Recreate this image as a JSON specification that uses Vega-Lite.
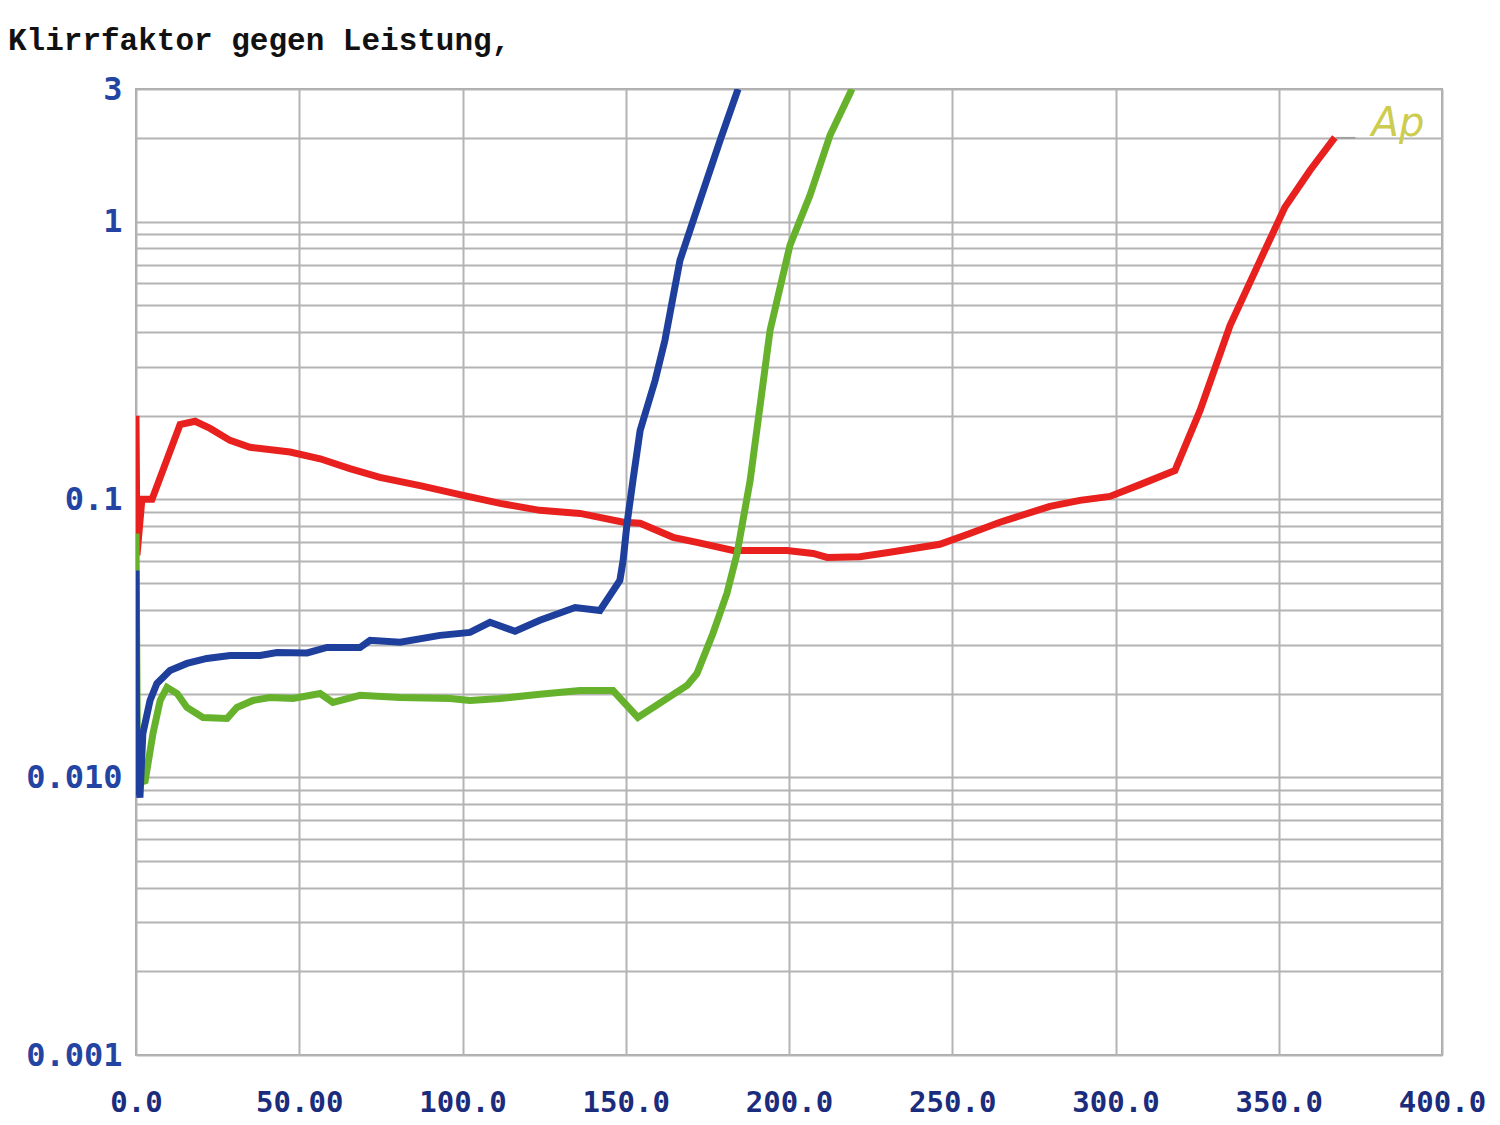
{
  "$schema": "https://vega.github.io/schema/vega-lite/v6.json",
  "width": 1306,
  "height": 966,
  "autosize": {"type": "none"},
  "padding": {"left": 136, "top": 89, "right": 58, "bottom": 70},
  "background": "white",
  "title": {
    "text": "Klirrfaktor gegen Leistung,",
    "anchor": "start",
    "frame": "group",
    "dx": -128,
    "dy": 44,
    "offset": 36,
    "baseline": "alphabetic",
    "font": "Liberation Mono",
    "fontSize": 31,
    "fontWeight": "bold",
    "color": "#111111"
  },
  "config": {
    "view": {"stroke": "#a8a8a8", "strokeWidth": 2},
    "axis": {"domain": false, "ticks": false, "gridColor": "#b4b4b4", "gridWidth": 2, "gridOpacity": 1, "title": null}
  },
  "datasets": {
    "curves": [
      {"s": "red", "i": 0, "x": 0, "y": 0.2},
      {"s": "red", "i": 1, "x": 0.3, "y": 0.063},
      {"s": "red", "i": 2, "x": 1.8, "y": 0.1},
      {"s": "red", "i": 3, "x": 4.9, "y": 0.1},
      {"s": "red", "i": 4, "x": 13.5, "y": 0.186},
      {"s": "red", "i": 5, "x": 18.1, "y": 0.191},
      {"s": "red", "i": 6, "x": 22.7, "y": 0.18},
      {"s": "red", "i": 7, "x": 28.8, "y": 0.163},
      {"s": "red", "i": 8, "x": 34.9, "y": 0.154},
      {"s": "red", "i": 9, "x": 47.2, "y": 0.148},
      {"s": "red", "i": 10, "x": 56.4, "y": 0.14},
      {"s": "red", "i": 11, "x": 65.5, "y": 0.129},
      {"s": "red", "i": 12, "x": 74.7, "y": 0.12},
      {"s": "red", "i": 13, "x": 87.0, "y": 0.112},
      {"s": "red", "i": 14, "x": 99.2, "y": 0.104},
      {"s": "red", "i": 15, "x": 111.5, "y": 0.0967},
      {"s": "red", "i": 16, "x": 123.7, "y": 0.0913},
      {"s": "red", "i": 17, "x": 136.0, "y": 0.089},
      {"s": "red", "i": 18, "x": 149.3, "y": 0.0827},
      {"s": "red", "i": 19, "x": 154.4, "y": 0.082},
      {"s": "red", "i": 20, "x": 164.5, "y": 0.073},
      {"s": "red", "i": 21, "x": 171.8, "y": 0.07},
      {"s": "red", "i": 22, "x": 182.9, "y": 0.0655},
      {"s": "red", "i": 23, "x": 199.4, "y": 0.0655},
      {"s": "red", "i": 24, "x": 207.4, "y": 0.0639},
      {"s": "red", "i": 25, "x": 211.7, "y": 0.0618},
      {"s": "red", "i": 26, "x": 221.7, "y": 0.0622},
      {"s": "red", "i": 27, "x": 230.9, "y": 0.0645},
      {"s": "red", "i": 28, "x": 246.2, "y": 0.0689},
      {"s": "red", "i": 29, "x": 255.4, "y": 0.0754},
      {"s": "red", "i": 30, "x": 264.6, "y": 0.0827},
      {"s": "red", "i": 31, "x": 279.9, "y": 0.0944},
      {"s": "red", "i": 32, "x": 289.1, "y": 0.0992},
      {"s": "red", "i": 33, "x": 298.3, "y": 0.1025},
      {"s": "red", "i": 34, "x": 307.5, "y": 0.113},
      {"s": "red", "i": 35, "x": 318.2, "y": 0.127},
      {"s": "red", "i": 36, "x": 325.9, "y": 0.209},
      {"s": "red", "i": 37, "x": 335.1, "y": 0.423},
      {"s": "red", "i": 38, "x": 344.3, "y": 0.725},
      {"s": "red", "i": 39, "x": 351.9, "y": 1.127},
      {"s": "red", "i": 40, "x": 359.6, "y": 1.53},
      {"s": "red", "i": 41, "x": 367.2, "y": 2.01},

      {"s": "green", "i": 0, "x": 0, "y": 0.0754},
      {"s": "green", "i": 1, "x": 0.5, "y": 0.0095},
      {"s": "green", "i": 2, "x": 2.8, "y": 0.0097},
      {"s": "green", "i": 3, "x": 5.2, "y": 0.01437},
      {"s": "green", "i": 4, "x": 7.4, "y": 0.01889},
      {"s": "green", "i": 5, "x": 9.5, "y": 0.02104},
      {"s": "green", "i": 6, "x": 12.6, "y": 0.02},
      {"s": "green", "i": 7, "x": 15.6, "y": 0.01782},
      {"s": "green", "i": 8, "x": 20.5, "y": 0.01641},
      {"s": "green", "i": 9, "x": 27.9, "y": 0.01628},
      {"s": "green", "i": 10, "x": 30.9, "y": 0.01782},
      {"s": "green", "i": 11, "x": 35.8, "y": 0.01889},
      {"s": "green", "i": 12, "x": 41.0, "y": 0.01936},
      {"s": "green", "i": 13, "x": 48.1, "y": 0.0192},
      {"s": "green", "i": 14, "x": 56.4, "y": 0.02},
      {"s": "green", "i": 15, "x": 60.3, "y": 0.01858},
      {"s": "green", "i": 16, "x": 68.6, "y": 0.0197},
      {"s": "green", "i": 17, "x": 80.9, "y": 0.01936},
      {"s": "green", "i": 18, "x": 96.2, "y": 0.0192},
      {"s": "green", "i": 19, "x": 102.3, "y": 0.01889},
      {"s": "green", "i": 20, "x": 111.5, "y": 0.0192},
      {"s": "green", "i": 21, "x": 123.7, "y": 0.0199},
      {"s": "green", "i": 22, "x": 136.0, "y": 0.0205},
      {"s": "green", "i": 23, "x": 146.1, "y": 0.0205},
      {"s": "green", "i": 24, "x": 153.7, "y": 0.01641},
      {"s": "green", "i": 25, "x": 168.8, "y": 0.0214},
      {"s": "green", "i": 26, "x": 171.8, "y": 0.0236},
      {"s": "green", "i": 27, "x": 176.7, "y": 0.0329},
      {"s": "green", "i": 28, "x": 181.0, "y": 0.0459},
      {"s": "green", "i": 29, "x": 184.1, "y": 0.0639},
      {"s": "green", "i": 30, "x": 185.9, "y": 0.084},
      {"s": "green", "i": 31, "x": 188.1, "y": 0.117},
      {"s": "green", "i": 32, "x": 194.2, "y": 0.406},
      {"s": "green", "i": 33, "x": 200.3, "y": 0.822},
      {"s": "green", "i": 34, "x": 206.4, "y": 1.24},
      {"s": "green", "i": 35, "x": 212.6, "y": 2.05},
      {"s": "green", "i": 36, "x": 219.3, "y": 3.0},

      {"s": "blue", "i": 0, "x": 0, "y": 0.0555},
      {"s": "blue", "i": 1, "x": 0.2, "y": 0.0106},
      {"s": "blue", "i": 2, "x": 1.2, "y": 0.00845},
      {"s": "blue", "i": 3, "x": 2.1, "y": 0.01437},
      {"s": "blue", "i": 4, "x": 4.3, "y": 0.01889},
      {"s": "blue", "i": 5, "x": 6.4, "y": 0.02175},
      {"s": "blue", "i": 6, "x": 10.4, "y": 0.02422},
      {"s": "blue", "i": 7, "x": 15.6, "y": 0.02567},
      {"s": "blue", "i": 8, "x": 21.7, "y": 0.02676},
      {"s": "blue", "i": 9, "x": 28.8, "y": 0.02743},
      {"s": "blue", "i": 10, "x": 38.0, "y": 0.02743},
      {"s": "blue", "i": 11, "x": 43.2, "y": 0.02812},
      {"s": "blue", "i": 12, "x": 52.4, "y": 0.028},
      {"s": "blue", "i": 13, "x": 58.5, "y": 0.0293},
      {"s": "blue", "i": 14, "x": 68.6, "y": 0.0293},
      {"s": "blue", "i": 15, "x": 71.7, "y": 0.0311},
      {"s": "blue", "i": 16, "x": 80.9, "y": 0.0306},
      {"s": "blue", "i": 17, "x": 93.1, "y": 0.0324},
      {"s": "blue", "i": 18, "x": 102.3, "y": 0.0332},
      {"s": "blue", "i": 19, "x": 108.4, "y": 0.0361},
      {"s": "blue", "i": 20, "x": 116.1, "y": 0.0335},
      {"s": "blue", "i": 21, "x": 123.7, "y": 0.0367},
      {"s": "blue", "i": 22, "x": 134.5, "y": 0.0408},
      {"s": "blue", "i": 23, "x": 142.1, "y": 0.0398},
      {"s": "blue", "i": 24, "x": 148.2, "y": 0.0511},
      {"s": "blue", "i": 25, "x": 149.2, "y": 0.0603},
      {"s": "blue", "i": 26, "x": 150.4, "y": 0.082},
      {"s": "blue", "i": 27, "x": 152.2, "y": 0.117},
      {"s": "blue", "i": 28, "x": 154.4, "y": 0.177},
      {"s": "blue", "i": 29, "x": 159.0, "y": 0.268},
      {"s": "blue", "i": 30, "x": 162.0, "y": 0.374},
      {"s": "blue", "i": 31, "x": 166.6, "y": 0.725},
      {"s": "blue", "i": 32, "x": 172.7, "y": 1.19},
      {"s": "blue", "i": 33, "x": 178.9, "y": 1.96},
      {"s": "blue", "i": 34, "x": 184.4, "y": 3.0}
    ],
    "labels": [{"x": 386.5, "y": 2.25, "t": "Ap"}],
    "leader": [{"x": 367.5, "x2": 373.5, "y": 2.0}]
  },
  "encoding": {
    "x": {
      "field": "x", "type": "quantitative",
      "scale": {"domain": [0, 400], "nice": false, "zero": false},
      "axis": {
        "values": [0, 50, 100, 150, 200, 250, 300, 350, 400],
        "labelExpr": "datum.value == 50 ? '50.00' : format(datum.value, '.1f')",
        "labelFont": "DejaVu Sans Mono", "labelFontSize": 29, "labelFontWeight": "bold",
        "labelColor": "#1c2c7c", "labelPadding": 33, "labelBaseline": "top", "labelFlush": false, "labelOverlap": false
      }
    },
    "y": {
      "field": "y", "type": "quantitative",
      "scale": {"type": "log", "domain": [0.001, 3], "nice": false},
      "axis": {
        "values": [0.001, 0.002, 0.003, 0.004, 0.005, 0.006, 0.007, 0.008, 0.009, 0.01, 0.02, 0.03, 0.04, 0.05, 0.06, 0.07, 0.08, 0.09, 0.1, 0.2, 0.3, 0.4, 0.5, 0.6, 0.7, 0.8, 0.9, 1, 2, 3],
        "labelExpr": "datum.value == 3 ? '3' : datum.value == 1 ? '1' : datum.value == 0.1 ? '0.1' : datum.value == 0.01 ? '0.010' : datum.value == 0.001 ? '0.001' : ''",
        "labelFont": "DejaVu Sans Mono", "labelFontSize": 32, "labelFontWeight": "bold",
        "labelColor": "#2444a4", "labelPadding": 14, "labelFlush": false, "labelOverlap": false
      }
    }
  },
  "layer": [
    {
      "data": {"name": "curves"},
      "transform": [{"filter": "datum.s == 'red'"}],
      "mark": {"type": "line", "color": "#e8211e", "strokeWidth": 7, "clip": true},
      "encoding": {"order": {"field": "i", "type": "quantitative"}}
    },
    {
      "data": {"name": "curves"},
      "transform": [{"filter": "datum.s == 'green'"}],
      "mark": {"type": "line", "color": "#66b22c", "strokeWidth": 7, "clip": true},
      "encoding": {"order": {"field": "i", "type": "quantitative"}}
    },
    {
      "data": {"name": "curves"},
      "transform": [{"filter": "datum.s == 'blue'"}],
      "mark": {"type": "line", "color": "#1f3f9c", "strokeWidth": 7, "clip": true},
      "encoding": {"order": {"field": "i", "type": "quantitative"}}
    },
    {
      "data": {"name": "leader"},
      "mark": {"type": "rule", "color": "#a0a0a0", "strokeWidth": 2},
      "encoding": {"x2": {"field": "x2"}}
    },
    {
      "data": {"name": "labels"},
      "mark": {"type": "text", "color": "#cccc50", "font": "DejaVu Sans", "fontSize": 40, "fontStyle": "italic", "align": "center", "baseline": "middle"},
      "encoding": {"text": {"field": "t"}}
    }
  ]
}
